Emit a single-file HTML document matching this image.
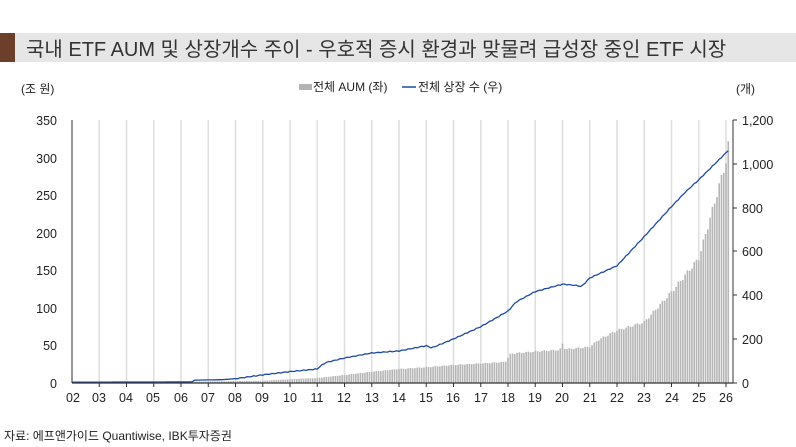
<!DOCTYPE html>
<html><head><meta charset="utf-8"><style>
body{margin:0;width:796px;height:447px;background:#fff;overflow:hidden;font-family:"Liberation Sans","Noto Sans CJK KR",sans-serif;}
</style></head><body>
<svg width="796" height="447" xmlns="http://www.w3.org/2000/svg" style="position:absolute;left:0;top:0">
<rect x="0" y="33" width="796" height="29" fill="#e6e6e6"/>
<rect x="0" y="33" width="15" height="29" fill="#6b3f2a"/>
<text x="26" y="56" font-size="20" fill="#333" font-family="Liberation Sans, Noto Sans CJK KR, sans-serif">국내 ETF AUM 및 상장개수 주이 - 우호적 증시 환경과 맞물려 급성장 중인 ETF 시장</text>
<g font-size="12" fill="#222" font-family="Liberation Sans, Noto Sans CJK KR, sans-serif">
<text x="21" y="93">(조 원)</text>
<text x="736" y="93">(개)</text>
<rect x="299" y="84" width="13" height="6" fill="#b3b3b3"/>
<text x="313" y="91">전체 AUM (좌)</text>
<line x1="402" y1="87" x2="416" y2="87" stroke="#1f4aa0" stroke-width="1.5"/>
<text x="418" y="91">전체 상장 수 (우)</text>
</g>
<g id="grid"></g>
<g id="bars"></g>
<polyline id="line" fill="none" stroke="#1f4aa0" stroke-width="1.3"/>
<line x1="72" y1="120" x2="72" y2="383" stroke="#333" stroke-width="1"/>
<line x1="733" y1="120" x2="733" y2="383" stroke="#333" stroke-width="1"/>
<line x1="72" y1="383" x2="733" y2="383" stroke="#333" stroke-width="1.2"/>
<g id="ticks" stroke="#333"></g>
<g font-size="12.5" fill="#222" text-anchor="end" font-family="Liberation Sans, sans-serif">
<text x="57" y="125">350</text><text x="57" y="163">300</text><text x="57" y="200">250</text><text x="57" y="238">200</text><text x="57" y="275">150</text><text x="57" y="313">100</text><text x="57" y="350">50</text><text x="57" y="388">0</text>
</g>
<g font-size="12.5" fill="#222" font-family="Liberation Sans, sans-serif">
<text x="742" y="125">1,200</text><text x="742" y="169">1,000</text><text x="742" y="213">800</text><text x="742" y="256">600</text><text x="742" y="300">400</text><text x="742" y="344">200</text><text x="742" y="388">0</text>
</g>
<g font-size="12.5" fill="#222" text-anchor="middle" font-family="Liberation Sans, sans-serif">
<text x="73" y="402">02</text><text x="99" y="402">03</text><text x="126" y="402">04</text><text x="153" y="402">05</text><text x="181" y="402">06</text><text x="208" y="402">07</text><text x="235" y="402">08</text><text x="262" y="402">09</text><text x="290" y="402">10</text><text x="317" y="402">11</text><text x="344" y="402">12</text><text x="372" y="402">13</text><text x="399" y="402">14</text><text x="426" y="402">15</text><text x="453" y="402">16</text><text x="481" y="402">17</text><text x="508" y="402">18</text><text x="535" y="402">19</text><text x="562" y="402">20</text><text x="590" y="402">21</text><text x="617" y="402">22</text><text x="644" y="402">23</text><text x="672" y="402">24</text><text x="699" y="402">25</text><text x="726" y="402">26</text>
</g>
<text x="4" y="440" font-size="12" fill="#222" font-family="Liberation Sans, Noto Sans CJK KR, sans-serif">자료: 에프앤가이드 Quantiwise, IBK투자증권</text>
</svg>
<script>
var ns="http://www.w3.org/2000/svg";
function X(y){return 72+27.25*(y-2);}
var g=document.getElementById('grid'),t=document.getElementById('ticks');
for(var k=3;k<=26;k++){var l=document.createElementNS(ns,'line');l.setAttribute('x1',X(k));l.setAttribute('x2',X(k));l.setAttribute('y1',120);l.setAttribute('y2',383);l.setAttribute('stroke','#dedede');l.setAttribute('stroke-width','1.5');g.appendChild(l);
var m=document.createElementNS(ns,'line');m.setAttribute('x1',X(k));m.setAttribute('x2',X(k));m.setAttribute('y1',383);m.setAttribute('y2',387);t.appendChild(m);}
[120,164,208,251,295,339,383].forEach(function(y){var m=document.createElementNS(ns,'line');m.setAttribute('x1',733);m.setAttribute('x2',737);m.setAttribute('y1',y);m.setAttribute('y2',y);t.appendChild(m);});
function interp(p,x){for(var i=1;i<p.length;i++){if(x<=p[i][0]){var a=p[i-1],b=p[i];return a[1]+(b[1]-a[1])*(x-a[0])/(b[0]-a[0]);}}return p[p.length-1][1];}
var aum=[[2,0.3],[5,1],[7,2],[8,2.5],[9,3],[10,5],[11,6.7],[12,10.6],[13,15],[14,18.6],[15,21],[16,24],[17,26],[17.9,28],[18.1,39],[19,42],[19.9,44],[20,52],[20.1,45],[21,48],[21.3,57],[22,70],[23,81],[24,121],[25,166],[25.5,230],[26,295],[26.1,320]];
var cnt=[[2,4],[6.4,5],[6.5,13],[7.5,15],[8,20],[9,37],[10,52],[11,64],[11.1,75],[11.3,93],[12,114],[13,137],[14,146],[14.7,163],[15,170],[15.2,160],[16,201],[17,257],[18,328],[18.3,370],[19,417],[20,451],[20.5,445],[20.7,440],[21,479],[22,535],[23,668],[24,805],[24.5,870],[25,927],[26,1050],[26.1,1064]];
var b=document.getElementById('bars'),pts=[];
for(var i=0;i<=289;i++){var yr=2+i/12;var v=interp(aum,yr)*(1+0.02*Math.sin(i*1.7));var h=v*0.7514;
var r=document.createElementNS(ns,'rect');r.setAttribute('x',X(yr)-0.8);r.setAttribute('width',1.6);r.setAttribute('y',383-h);r.setAttribute('height',h);r.setAttribute('fill','#b5b5b5');b.appendChild(r);
var c=interp(cnt,yr)+ (yr>8?2*Math.sin(i*2.3):0);pts.push(X(yr).toFixed(1)+','+(383-c*0.2192).toFixed(1));}
document.getElementById('line').setAttribute('points',pts.join(' '));
</script>
</body></html>
